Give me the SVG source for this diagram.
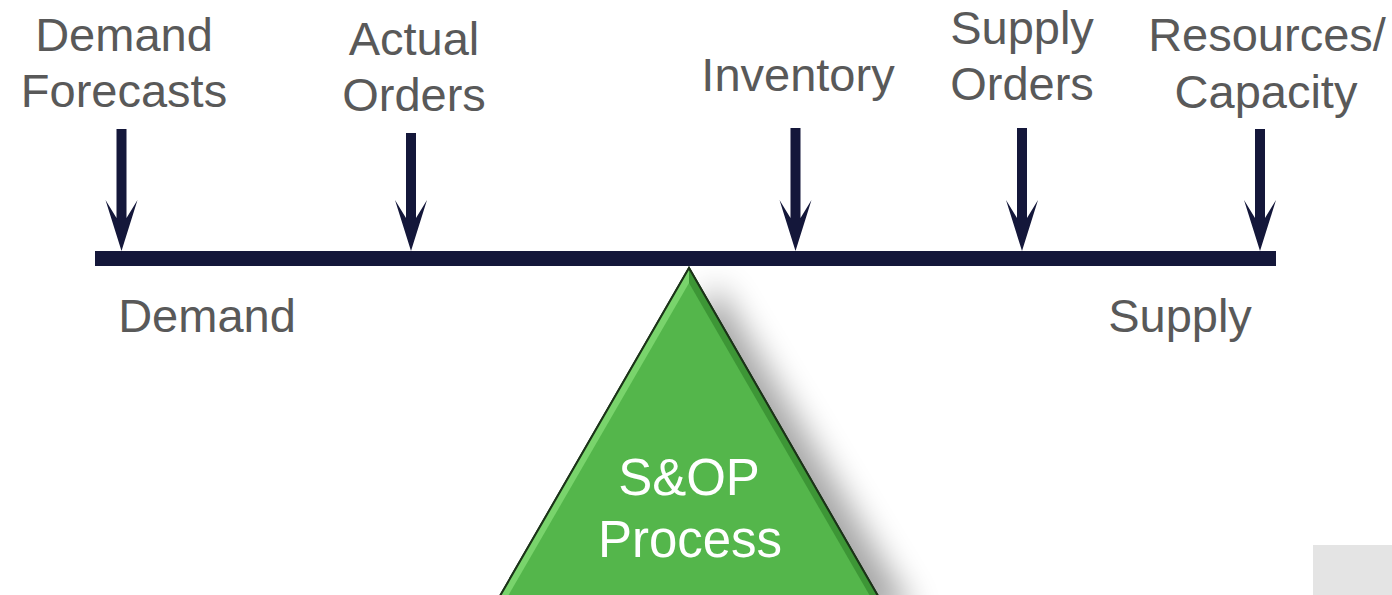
<svg xmlns="http://www.w3.org/2000/svg" width="1392" height="595" viewBox="0 0 1392 595">
<style>
.lbl{font-family:"Liberation Sans",Arial,sans-serif;font-size:47px;fill:#595959;text-anchor:middle}
.tri{font-family:"Liberation Sans",Arial,sans-serif;font-size:51px;fill:#ffffff;text-anchor:middle}
.arr{fill:#14173a}
</style>
<defs>
<filter id="sh" x="-30%" y="-30%" width="160%" height="160%">
<feGaussianBlur stdDeviation="16"/>
</filter>
</defs>
<rect width="1392" height="595" fill="#ffffff"/>
<rect x="1313" y="545" width="79" height="50" fill="#e4e4e4"/>
<g id="labels-top">
<text class="lbl" x="124" y="51">Demand</text>
<text class="lbl" x="124" y="107">Forecasts</text>
<text class="lbl" x="414" y="55">Actual</text>
<text class="lbl" x="414" y="111">Orders</text>
<text class="lbl" x="798" y="91">Inventory</text>
<text class="lbl" x="1022" y="44">Supply</text>
<text class="lbl" x="1022" y="100">Orders</text>
<text class="lbl" x="1267" y="51">Resources/</text>
<text class="lbl" x="1266" y="108">Capacity</text>
</g>
<g id="labels-bottom">
<text class="lbl" x="207" y="332">Demand</text>
<text class="lbl" x="1180" y="332">Supply</text>
</g>
<g id="fulcrum">
<polygon points="716,284 915,615 532,615" fill="#000" opacity="0.35" filter="url(#sh)"/>
<polygon points="689,268 500,596 878,596" fill="#54b64b" stroke="#1b3318" stroke-width="2"/>
<polygon points="689,268 500,596 508,596 689,283" fill="#79d46c"/>
<polygon points="689,268 878,596 870,596 689,283" fill="#3d9636"/>
<polygon points="689,268 500,596 878,596" fill="none" stroke="#1b3318" stroke-width="2"/>
<text class="tri" x="689" y="495">S&amp;OP</text>
<text class="tri" x="690" y="557">Process</text>
</g>
<g id="beam">
<rect class="arr" x="95" y="251" width="1181" height="15"/>
</g>
<g id="connectors">
<polygon class="arr" points="116.5,129 126.5,129 126.5,218 137.5,200 121.5,251 105.5,200 116.5,218"/>
<polygon class="arr" points="406,133 416,133 416,218 427,200 411,251 395,200 406,218"/>
<polygon class="arr" points="790.5,128 800.5,128 800.5,218 811.5,200 795.5,251 779.5,200 790.5,218"/>
<polygon class="arr" points="1017,128 1027,128 1027,218 1038,200 1022,251 1006,200 1017,218"/>
<polygon class="arr" points="1255,129 1265,129 1265,218 1276,200 1260,251 1244,200 1255,218"/>
</g>
</svg>
